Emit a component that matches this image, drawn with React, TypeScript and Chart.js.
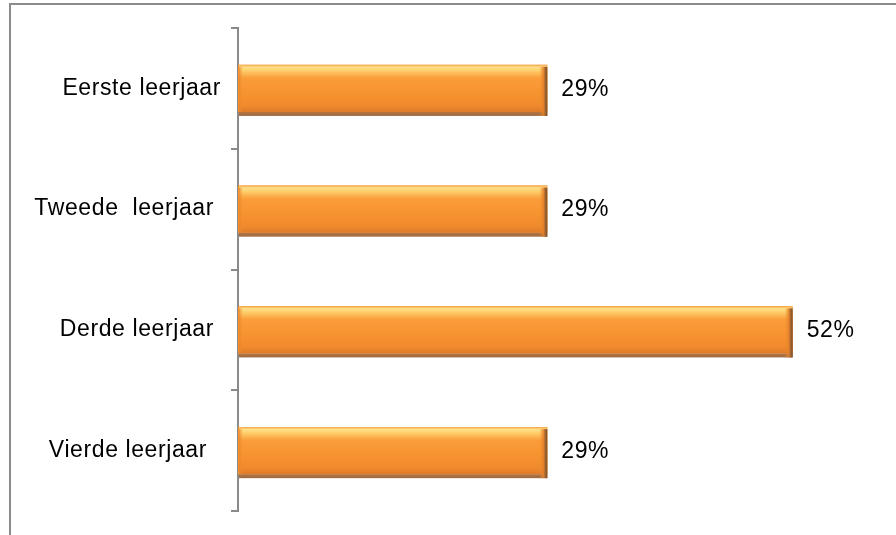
import React, { useEffect, useRef } from "react";
import { Chart, registerables } from "chart.js";

Chart.register(...registerables);

// ---- data ----
const categories = ["Eerste leerjaar", "Tweede  leerjaar ", "Derde leerjaar ", "Vierde leerjaar  "];
const values = [29, 29, 52, 29];
const axisMin = 0;
const axisMax = 60;
const valueSuffix = "%";

const FONT_FAMILY = '"Liberation Sans", Arial, Helvetica, sans-serif';
const FONT_SIZE = 23;

const framePlugin = {
  id: "frame",
  beforeDraw(chart: any) {
    const ctx = chart.ctx;
    try {
      (ctx as any).letterSpacing = "0.6px";
    } catch (e) {}
    ctx.save();
    ctx.fillStyle = "#ffffff";
    ctx.fillRect(0, 0, chart.width, chart.height);
    ctx.strokeStyle = "#8c8c8c";
    ctx.lineWidth = 2;
    ctx.beginPath();
    ctx.moveTo(10, chart.height + 10);
    ctx.lineTo(10, 4);
    ctx.lineTo(chart.width + 10, 4);
    ctx.stroke();
    ctx.restore();
  },
};

const bevelPlugin = {
  id: "bevel",
  afterDatasetsDraw(chart: any) {
    const ctx = chart.ctx;
    const meta = chart.getDatasetMeta(0);
    meta.data.forEach((el: any) => {
      const x0 = Math.min(el.base, el.x) + 1;
      const x1 = Math.max(el.base, el.x);
      const h = el.height;
      const top = el.y - h / 2;
      const bot = el.y + h / 2;
      const w = x1 - x0;
      ctx.save();
      const g = ctx.createLinearGradient(0, top, 0, bot);
      g.addColorStop(0, "#f5a646");
      g.addColorStop(0.05, "#ffe08a");
      g.addColorStop(0.13, "#fdcc68");
      g.addColorStop(0.28, "#fa9d3a");
      g.addColorStop(0.6, "#f7932f");
      g.addColorStop(0.86, "#f08a2d");
      g.addColorStop(1, "#de7b29");
      ctx.fillStyle = g;
      ctx.fillRect(x0, top, w, h);
      const gs = ctx.createLinearGradient(0, bot, 0, bot + 4);
      gs.addColorStop(0, "#b8743e");
      gs.addColorStop(1, "#9c6a44");
      ctx.fillStyle = gs;
      ctx.fillRect(x0, bot, w, 4);
      const gr = ctx.createLinearGradient(x1 - 8, 0, x1, 0);
      gr.addColorStop(0, "rgba(240,140,45,0)");
      gr.addColorStop(0.55, "rgba(225,125,40,0.9)");
      gr.addColorStop(0.7, "#a86a34");
      gr.addColorStop(1, "#7f4e22");
      ctx.fillStyle = gr;
      ctx.fillRect(x1 - 8, top + 2, 8, h + 2);
      const gl = ctx.createLinearGradient(x0, 0, x0 + 4, 0);
      gl.addColorStop(0, "rgba(230,130,40,0.8)");
      gl.addColorStop(1, "rgba(247,147,47,0)");
      ctx.fillStyle = gl;
      ctx.fillRect(x0, top + 2, 4, h - 2);
      ctx.restore();
    });
  },
};

const valueLabelPlugin = {
  id: "valueLabels",
  afterDatasetsDraw(chart: any) {
    const ctx = chart.ctx;
    const meta = chart.getDatasetMeta(0);
    const data = chart.data.datasets[0].data as number[];
    ctx.save();
    ctx.font = `${FONT_SIZE}px ${FONT_FAMILY}`;
    ctx.fillStyle = "#000000";
    ctx.textAlign = "left";
    ctx.textBaseline = "middle";
    meta.data.forEach((el: any, i: number) => {
      ctx.fillText(`${data[i]}${valueSuffix}`, el.x + 14, el.y + 1);
    });
    ctx.restore();
  },
};

export default function App() {
  const canvasRef = useRef<HTMLCanvasElement | null>(null);

  useEffect(() => {
    if (!canvasRef.current) return;
    const chart = new Chart(canvasRef.current, {
      type: "bar",
      data: {
        labels: categories,
        datasets: [
          {
            data: values,
            backgroundColor: "#f7932f",
            borderWidth: 0,
            categoryPercentage: 1,
            barPercentage: 0.39,
          },
        ],
      },
      options: {
        indexAxis: "y",
        responsive: false,
        animation: false,
        devicePixelRatio: 1,
        layout: { padding: { left: 0, right: 18, top: 28, bottom: 24 } },
        plugins: {
          legend: { display: false },
          tooltip: { enabled: false },
          title: { display: false },
        },
        scales: {
          x: { display: false, min: axisMin, max: axisMax },
          y: {
            offset: true,
            grid: {
              display: true,
              drawOnChartArea: false,
              drawTicks: true,
              tickLength: 7,
              color: "#8a8a8a",
              lineWidth: 2,
              offset: true,
            },
            border: { display: true, color: "#8a8a8a", width: 2 },
            ticks: {
              color: "#000000",
              padding: 10,
              font: { family: FONT_FAMILY, size: FONT_SIZE },
            },
            afterFit(scale: any) {
              scale.width = 238;
            },
          },
        },
      } as any,
      plugins: [framePlugin, bevelPlugin, valueLabelPlugin],
    });
    return () => chart.destroy();
  }, []);

  return (
    <canvas
      ref={canvasRef}
      width={896}
      height={535}
      style={{ position: "fixed", left: 0, top: 0, display: "block" }}
    />
  );
}
